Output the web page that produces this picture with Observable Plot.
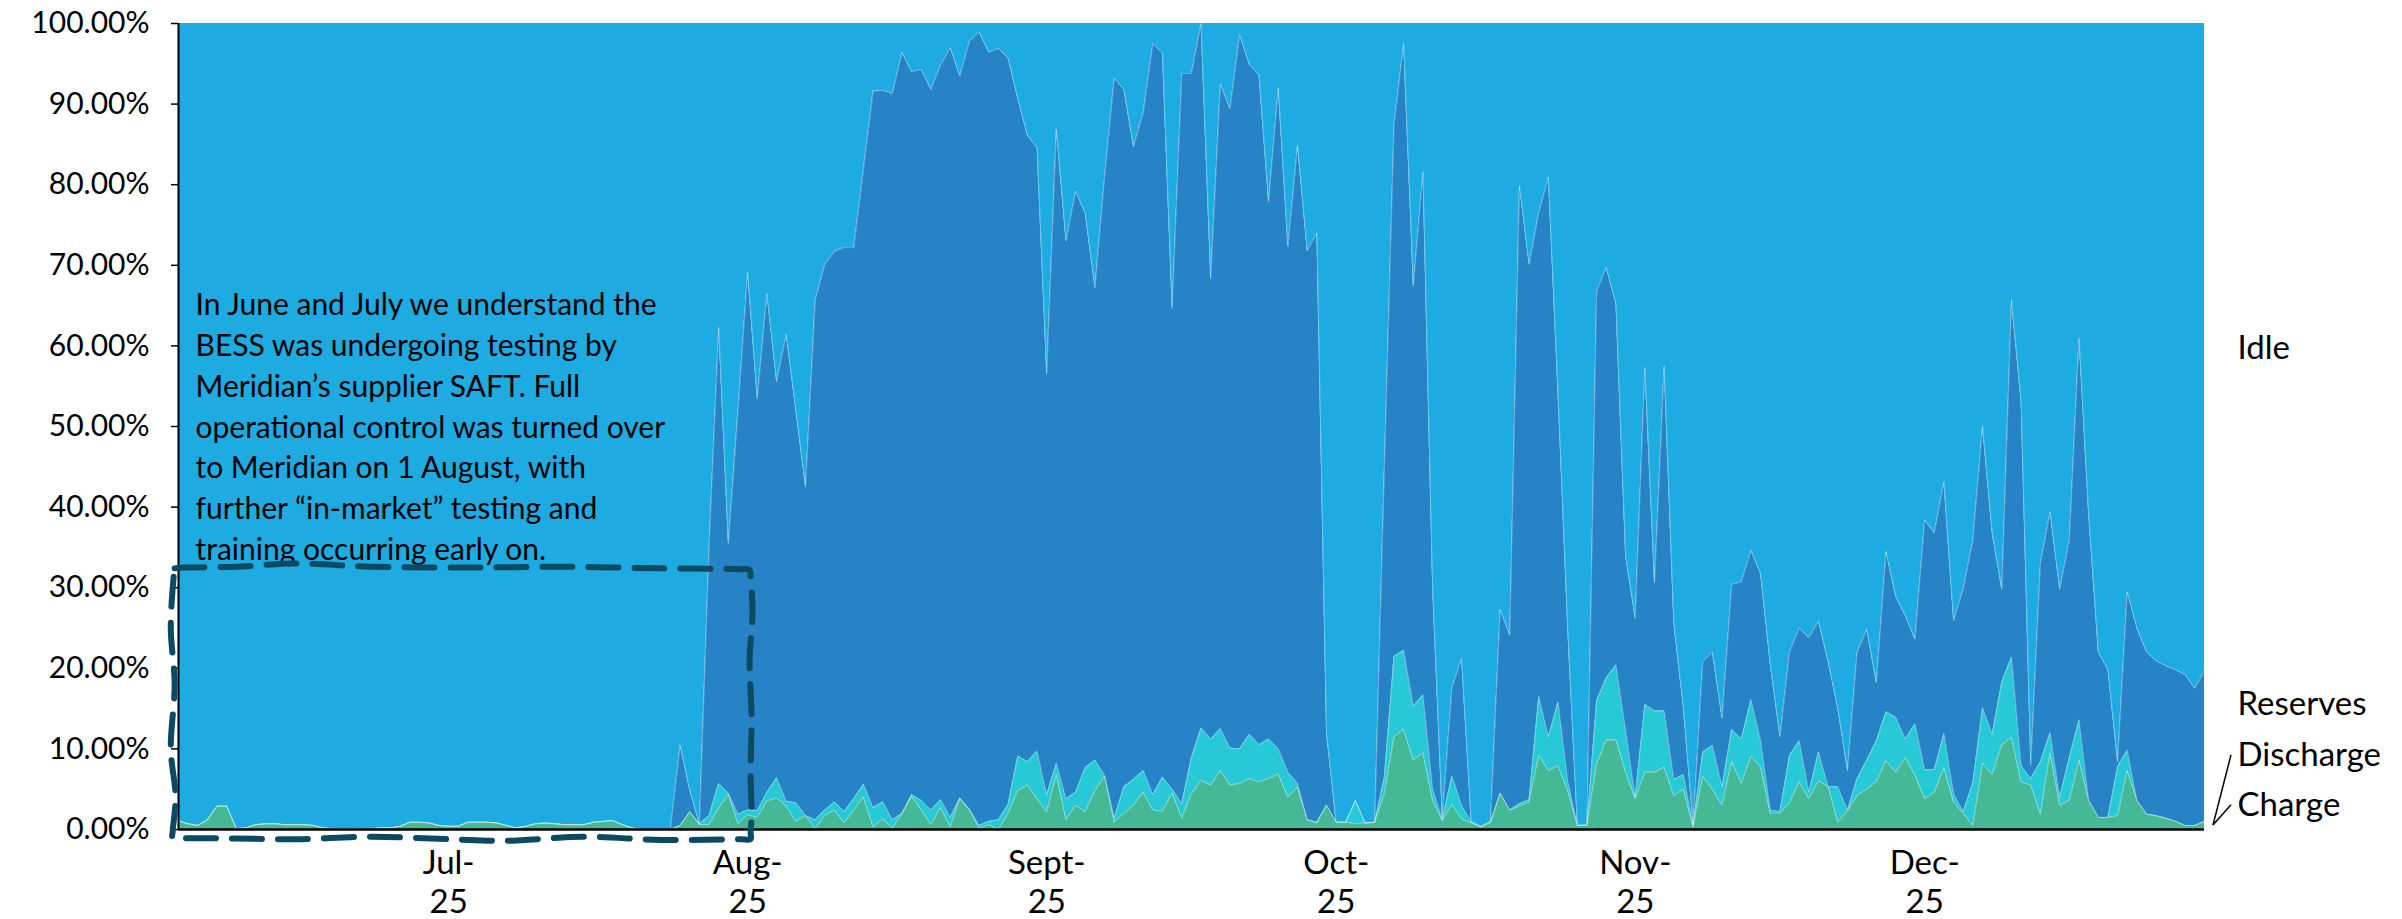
<!DOCTYPE html>
<html>
<head>
<meta charset="utf-8">
<script src="https://cdn.jsdelivr.net/npm/d3@7"></script>
<script src="https://cdn.jsdelivr.net/npm/@observablehq/plot@0.6"></script>
<style>
  html, body { margin: 0; padding: 0; background: #ffffff; }
  #chart { width: 2402px; height: 919px; }
</style>
</head>
<body>
<div id="chart"></div>
<script>
// Daily share of time (%) in each operating state, 3 Jun – 30 Dec 2025
const startDate = "2025-06-03";

const charge = [
  1.1,0.7,0.5,1.2,2.9,2.9,0.1,0.2,0.6,0.7,
  0.7,0.6,0.6,0.6,0.5,0.2,0.1,0.1,0.1,0,
  0.1,0.2,0.2,0.4,0.9,0.9,0.8,0.5,0.4,0.4,
  0.9,0.9,0.9,0.8,0.5,0.2,0.4,0.7,0.8,0.7,
  0.6,0.6,0.6,0.9,1.0,1.1,0.6,0.2,0,0,
  0,0,0.5,2.2,0.6,0.6,2.6,4.4,0.7,1.8,
  1.5,3.5,3.9,2.9,1.0,1.7,0.1,1.7,2.4,0.8,
  2.4,4.0,0.3,1.3,0.2,1.9,4.1,2.4,0.6,2.7,
  0.3,3.8,2.4,0.1,0.6,0,2.0,4.8,5.5,3.8,
  2.2,6.8,1.2,3.0,2.2,4.8,6.6,0.9,2.0,3.0,
  4.6,2.4,2.2,4.5,1.4,4.4,6.1,5.5,7.3,5.5,
  5.7,6.3,5.9,6.3,6.9,4.0,5.2,1.2,0.8,3.0,
  0.9,0.9,0.7,0.8,0.9,4.4,11.5,12.4,8.6,9.5,
  3.6,1.1,3.1,1.3,0.8,0.3,0.9,4.5,2.4,2.9,
  3.4,9.2,7.3,7.9,4.8,0.5,0.5,8.1,11.1,11.1,
  7.1,3.8,7.1,7.1,7.7,4.2,5.0,0.3,6.6,5.0,
  3.0,8.4,5.7,9.1,7.7,2.0,2.0,3.3,5.9,3.8,
  6.0,5.3,0.9,2.3,4.2,5.0,5.9,8.5,7.1,8.9,
  6.7,3.8,4.6,7.6,3.4,2.0,0.5,8.2,6.8,10.5,
  11.4,5.9,5.5,1.9,9.5,3.0,3.6,8.6,3.6,1.5,
  1.5,1.7,7.3,3.6,1.9,1.7,1.4,1.0,0.5,0.5,1.0
];

const discharge = [
  0,0,0,0,0,0,0,0,0,0,
  0,0,0,0,0,0,0,0,0,0,
  0,0,0,0,0,0,0,0,0,0,
  0,0,0,0,0,0,0,0,0,0,
  0,0,0,0,0,0,0,0,0,0,
  0,0,0,0,0.1,1.1,3.1,0.1,1.2,0.6,
  0.8,1.1,2.5,0.6,2.3,0,1.1,0.7,1.0,1.4,
  1.4,1.6,2.4,2.1,1.0,0.1,0.2,1.2,1.8,1.0,
  1.2,0.1,0.1,0.4,0.4,1.2,1.1,4.3,2.9,5.9,
  2.1,1.4,2.6,1.6,5.5,3.8,0.1,0.5,3.3,3.2,
  2.7,1.9,4.3,0.5,1.8,4.5,6.5,5.7,5.2,4.6,
  4.3,5.5,4.6,4.9,3.1,3.1,0.5,0,0.1,0,
  0,0,2.9,0,0,2.1,10.0,9.8,6.7,7.2,
  1.4,0.1,3.5,1.7,0.1,0,0,0,0,0.3,
  0.3,7.3,4.2,7.9,1.3,0,0,7.9,7.7,9.3,
  5.2,0.2,8.4,7.6,7.0,2.0,1.8,0.2,3.0,5.4,
  2.3,4.0,5.5,7.0,3.3,0.4,0.2,5.9,5.1,0.8,
  3.6,0,4.4,0.1,2.1,3.6,5.1,6.1,6.8,2.3,
  6.4,3.6,2.8,4.3,1.0,0.2,5.3,6.9,5.0,7.8,
  10.0,2.0,0.8,6.5,2.5,1.0,5.3,5.0,0,0,
  0,6.1,2.5,0,0,0,0,0,0,0,0
];

const reserves = [
  0,0,0,0,0,0,0,0,0,0,
  0,0,0,0,0,0,0,0,0,0,
  0,0,0,0,0,0,0,0,0,0,
  0,0,0,0,0,0,0,0,0,0,
  0,0,0,0,0,0,0,0,0,0,
  0,0,10.0,2.7,0,33.3,56.6,31.0,50.1,66.7,
  51.1,61.9,49.2,57.9,48.7,40.8,64.4,67.7,68.3,70.0,
  68.4,76.3,88.9,88.3,90.1,94.4,89.7,90.7,89.4,91.1,
  95.5,89.6,95.3,98.4,95.4,95.7,92.6,81.6,77.7,74.9,
  52.2,78.7,69.2,74.6,68.7,58.6,74.3,91.8,86.5,78.5,
  81.6,93.2,89.8,59.6,90.6,84.9,87.4,57.1,80.0,79.3,
  88.6,83.1,83.1,66.7,82.0,65.2,79.2,70.6,73.1,9.0,
  0,0,0,0,0,38.5,66.0,75.3,52.1,64.9,
  25.0,0.2,11.0,18.2,0.1,0.1,0.1,22.8,21.7,76.7,
  66.4,60.0,69.4,38.2,18.9,0,0.1,50.8,50.9,44.8,
  21.7,22.2,41.8,15.9,42.8,19.4,8.2,0,11.2,11.6,
  8.5,18.0,19.5,18.5,20.7,18.1,9.3,12.8,14.0,19.2,
  16.2,15.5,9.7,4.9,15.7,16.2,7.2,19.9,15.0,15.3,
  10.5,31.0,29.4,31.2,21.5,27.6,30.1,34.9,25.0,11.5,
  44.3,45.1,1.7,24.6,27.4,25.8,27.0,47.4,35.5,20.5,
  18.3,0.6,19.7,21.4,20.1,19.2,18.9,18.8,18.7,17.0,18.6
];

const idle = [
  98.9,99.3,99.5,98.8,97.1,97.1,99.9,99.8,99.4,99.3,
  99.3,99.4,99.4,99.4,99.5,99.8,99.9,99.9,99.9,100,
  99.9,99.8,99.8,99.6,99.1,99.1,99.2,99.5,99.6,99.6,
  99.1,99.1,99.1,99.2,99.5,99.8,99.6,99.3,99.2,99.3,
  99.4,99.4,99.4,99.1,99.0,98.9,99.4,99.8,100,100,
  100,100,89.5,95.1,99.3,65.0,37.7,64.5,48.0,30.9,
  46.6,33.5,44.4,38.6,48.0,57.5,34.4,29.9,28.3,27.8,
  27.8,18.1,8.4,8.3,8.7,3.6,6.0,5.7,8.2,5.2,
  3.0,6.5,2.2,1.1,3.6,3.1,4.3,9.3,13.9,15.4,
  43.5,13.1,27.0,20.8,23.6,32.8,19.0,6.8,8.2,15.3,
  11.1,2.5,3.7,35.4,6.2,6.2,0,31.7,7.5,10.6,
  1.4,5.1,6.4,22.1,8.0,27.7,15.1,28.2,26.0,88.0,
  99.1,99.1,96.4,99.2,99.1,55.0,12.5,2.5,32.6,18.4,
  70.0,98.6,82.4,78.8,99.0,99.6,99.0,72.7,75.9,20.1,
  29.9,23.5,19.1,46.0,75.0,99.5,99.4,33.2,30.3,34.8,
  66.0,73.8,42.7,69.4,42.5,74.4,85.0,99.5,79.2,78.0,
  86.2,69.6,69.3,65.4,68.3,79.5,88.5,78.0,75.0,76.2,
  74.2,79.2,85.0,92.7,78.0,75.2,81.8,65.5,71.1,73.5,
  76.4,61.6,63.2,56.9,74.1,70.2,64.1,50.0,63.2,70.2,
  34.3,47.0,92.0,67.0,60.6,70.2,64.1,39.0,60.9,78.0,
  80.2,91.6,70.5,75.0,78.0,79.1,79.7,80.2,80.8,82.5,80.4
];

// Stacking order, bottom to top, with fills
const seriesNames = ["Charge", "Discharge", "Reserves", "Idle"];
const seriesColors = ["#45b996", "#28c9d6", "#2683c6", "#1eabe2"];

// Axis ticks and labels
const yTicks = [0, 10, 20, 30, 40, 50, 60, 70, 80, 90, 100];
const monthTicks = ["2025-07-01", "2025-08-01", "2025-09-01", "2025-10-01", "2025-11-01", "2025-12-01"];
const monthLabels = ["Jul-25", "Aug-25", "Sept-25", "Oct-25", "Nov-25", "Dec-25"];

// Series names written at the right-hand end, with their heights on the % axis
const endLabels = [
  {name: "Idle", y: 59.7},
  {name: "Reserves", y: 15.5},
  {name: "Discharge", y: 9.2},
  {name: "Charge", y: 3.0}
];

const noteText = [
  "In June and July we understand the",
  "BESS was undergoing testing by",
  "Meridian\u2019s supplier SAFT. Full",
  "operational control was turned over",
  "to Meridian on 1 August, with",
  "further \u201cin-market\u201d testing and",
  "training occurring early on."
].join("\n");

// ---- build the long table ----
const day0 = new Date(startDate + "T00:00:00Z");
const dates = charge.map((_, i) => d3.utcDay.offset(day0, i));
const bySeries = {Charge: charge, Discharge: discharge, Reserves: reserves, Idle: idle};
const rows = [];
for (const name of seriesNames) {
  bySeries[name].forEach((v, i) => rows.push({date: dates[i], series: name, value: v}));
}
const lastDate = dates[dates.length - 1];
const tickDates = monthTicks.map(s => new Date(s + "T00:00:00Z"));
const labelFor = d => {
  const k = tickDates.findIndex(t => +t === +d);
  return k < 0 ? "" : monthLabels[k].replace("-", "-\n");
};

// hand-drawn dashed frame around the June–July testing period (day offset, %)
const frameAt = (dayOffset, pct) => ({date: new Date(+day0 + dayOffset * 864e5), pct});
const testingFrame = [
  frameAt(-0.4, 32.4), frameAt(0.6, 32.5), frameAt(6, 32.6), frameAt(12, 33.0), frameAt(20, 32.6),
  frameAt(30, 32.5), frameAt(40, 32.6), frameAt(50, 32.4), frameAt(58.3, 32.3), frameAt(59.2, 32.2),
  frameAt(59.3, 31.2), frameAt(59.5, 27), frameAt(59.2, 21), frameAt(59.4, 14), frameAt(59.3, 7),
  frameAt(59.4, 1.5), frameAt(59.3, -0.4), frameAt(59.3, -1.2), frameAt(58.3, -1.2),
  frameAt(50, -1.3), frameAt(42, -0.9), frameAt(34, -1.4), frameAt(28, -1.2), frameAt(20, -0.9),
  frameAt(12, -1.2), frameAt(5, -1.1), frameAt(0.4, -1.1), frameAt(-0.6, -1.1), frameAt(-0.6, -0.2),
  frameAt(-0.3, 4), frameAt(-0.8, 10), frameAt(-0.4, 18), frameAt(-0.8, 25), frameAt(-0.5, 31.4),
  frameAt(-0.4, 32.4)
];

const FONT = "Lato, 'Open Sans', sans-serif";

const plot = Plot.plot({
  width: 2402,
  height: 919,
  marginLeft: 178,
  marginRight: 198,
  marginTop: 23,
  marginBottom: 90,
  style: {fontFamily: FONT, fontSize: "33px", color: "#000000", background: "#ffffff", overflow: "visible"},
  x: {type: "utc", domain: [dates[0], lastDate]},
  y: {domain: [0, 100]},
  color: {domain: seriesNames, range: seriesColors},
  marks: [
    Plot.areaY(rows, {x: "date", y: "value", fill: "series", order: seriesNames, curve: "linear"}),
    // thin light edges along each stacked boundary
    Plot.lineY(rows.filter(d => d.series !== "Idle"),
      Plot.stackY2({x: "date", y: "value", z: "series", order: seriesNames,
        stroke: "#ffffff", strokeOpacity: 0.3, strokeWidth: 1})),
    Plot.ruleX([dates[0]], {stroke: "#000000", strokeWidth: 2}),
    Plot.ruleY([0], {stroke: "#000000", strokeWidth: 2.5}),
    Plot.axisY({ticks: yTicks, tickFormat: d => d.toFixed(2) + "%", tickSize: 7, tickPadding: 22,
      fontSize: 30, stroke: "#000000", strokeWidth: 1.5}),
    Plot.axisX({ticks: tickDates, tickFormat: labelFor, tickSize: 0, tickPadding: 16,
      fontSize: 33, lineHeight: 1.2}),
    Plot.text([noteText], {x: dates[0], y: 67.4, text: d => d, textAnchor: "start", lineAnchor: "top",
      dx: 17, fontSize: 30, lineHeight: 1.36, fill: "#000000"}),
    Plot.line(testingFrame, {x: "date", y: "pct", curve: "catmull-rom", stroke: "#0c4a63",
      strokeWidth: 6, strokeDasharray: "30,16"}),
    Plot.text(endLabels, {x: () => lastDate, y: "y", text: "name", textAnchor: "start", dx: 33,
      fontSize: 33, fill: "#000000"})
  ]
});

// leader strokes from the two lowest names to the thin layers at the end of the series
const xs = plot.scale("x"), ys = plot.scale("y");
const xEnd = xs.apply(lastDate);
const tip = [xEnd + 9, ys.apply(0.5)];
const leaders = endLabels.filter(d => d.name === "Discharge" || d.name === "Charge");
d3.select(plot).append("g")
  .attr("stroke", "#000000").attr("stroke-width", 1.5)
  .selectAll("line").data(leaders).join("line")
  .attr("x1", xEnd + 27).attr("y1", d => ys.apply(d.y))
  .attr("x2", tip[0]).attr("y2", tip[1]);

document.getElementById("chart").appendChild(plot);
</script>
</body>
</html>
